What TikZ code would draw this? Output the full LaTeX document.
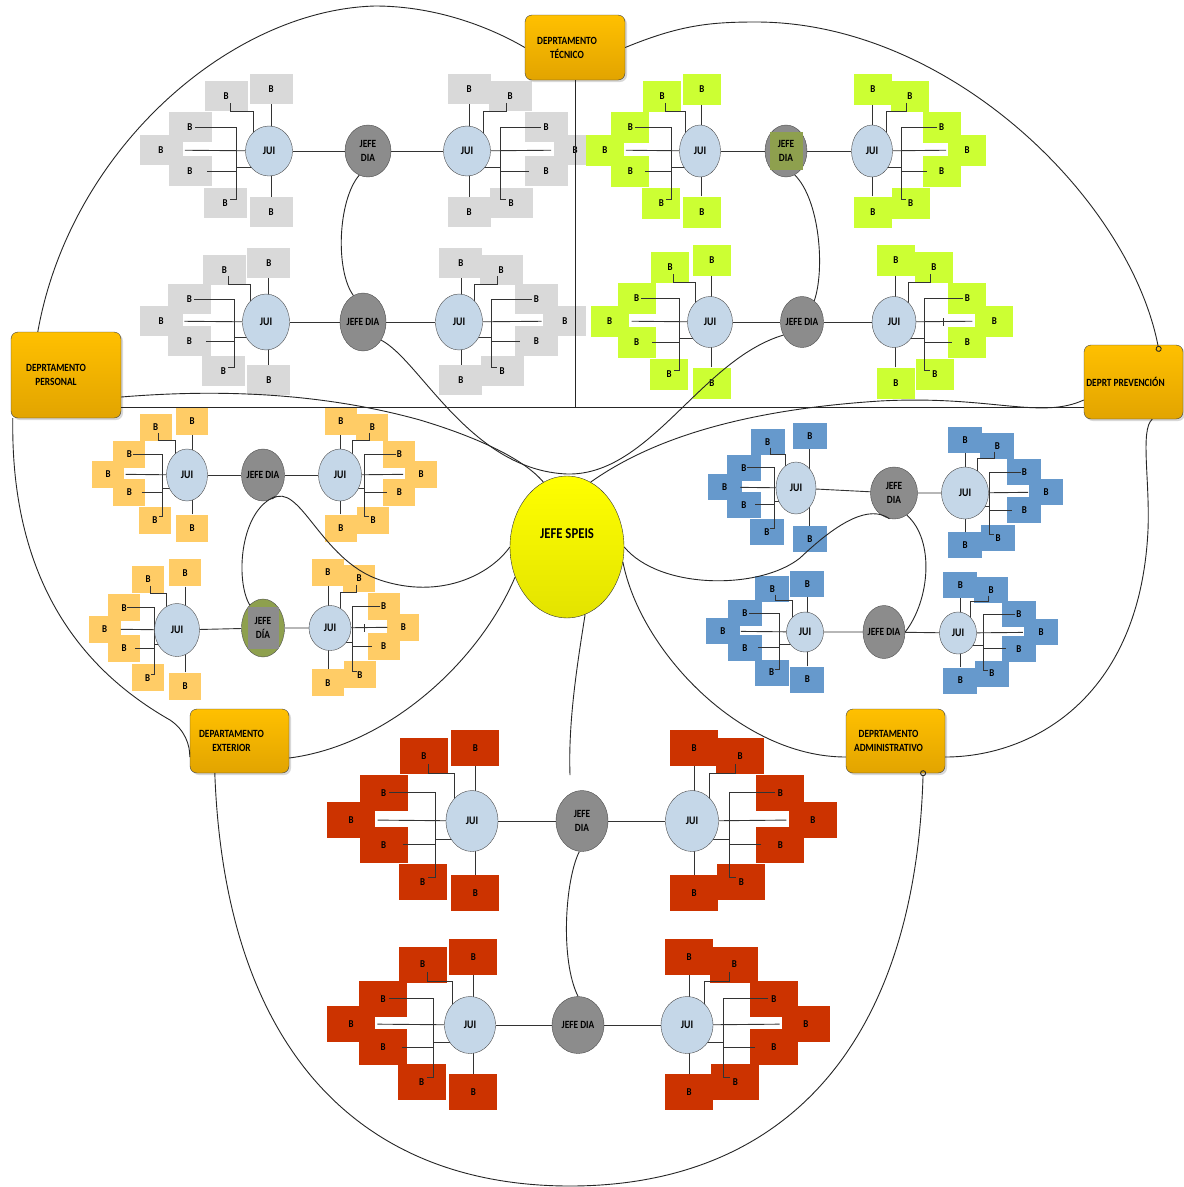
\documentclass[tikz,border=0pt]{standalone}
\usepackage{fontspec}
\setmainfont{Carlito}[FakeStretch=0.85]
\usepackage{tikz}
\usetikzlibrary{calc,shapes.geometric,shadows,arrows.meta}
\pgfdeclarelayer{bg}
\pgfsetlayers{bg,main}
\definecolor{cgrey}{HTML}{D9D9D9}
\definecolor{cgreen}{HTML}{CCFF33}
\definecolor{corange}{HTML}{FFCC66}
\definecolor{cblue}{HTML}{6699CC}
\definecolor{cred}{HTML}{CC3300}
\definecolor{cjui}{HTML}{C5D7E8}
\definecolor{cjefe}{HTML}{8C8C8C}
\definecolor{colive}{HTML}{8EA04E}
\definecolor{cdtop}{HTML}{FFC000}
\definecolor{cdbot}{HTML}{E2A400}
\definecolor{cspeis}{HTML}{E3E300}

\newcommand{\juigroup}[8]{%
  \node[jui, minimum width=#6, minimum height=#7] (#1) at #2 {JUI};
  \begin{pgfonlayer}{bg}
  \begin{scope}[shift={#2}, xscale=#3, yscale=#4]
    \node[bbox, #5] (#1t)  at (#8,-62)  {B};
    \node[bbox, #5] (#1tl) at (-43,-55) {B};
    \node[bbox, #5] (#1ul) at (-79,-24) {B};
    \node[bbox, #5] (#1f)  at (-108,-1) {B};
    \node[bbox, #5] (#1ll) at (-79,20)  {B};
    \node[bbox, #5] (#1bl) at (-44,52)  {B};
    \node[bbox, #5] (#1b)  at (#8,61)   {B};
    \draw[link] (#1t.south) -- (#1t.south |- #1.center);
    \draw[link] (#1b.north) -- (#1b.north |- #1.center);
    \draw[link] (-39,-48) |- (-16,-40) -- (-16,0);
    \draw[link] (-74,-24) -| (-33,48) -- (-39,48);
    \draw[link] ($(#1f)!.22!(#1)$) -- (#1);
    \draw[link] (-62,20) -- (-33,20);
    \draw[link] (-33,16) -- (0,16);
  \end{scope}
  \end{pgfonlayer}
}

\begin{document}
\begin{tikzpicture}[x=1pt, y=-1pt,
  link/.style={draw=black!80, line width=0.9pt},
  curve/.style={draw=black!85, line width=0.9pt},
  bbox/.style={rectangle, inner sep=0pt, font=\bfseries\fontsize{10.5}{10.5}\selectfont},
  greyb/.style={fill=cgrey, minimum width=43, minimum height=30},
  greenb/.style={fill=cgreen, minimum width=38, minimum height=31},
  orangeb/.style={fill=corange, minimum width=32, minimum height=27},
  blueb/.style={fill=cblue, minimum width=34, minimum height=26},
  redb/.style={fill=cred, minimum width=48, minimum height=36},
  jui/.style={ellipse, draw=black!70, fill=cjui, inner sep=0pt, font=\bfseries\fontsize{11.5}{12}\selectfont},
  jefe/.style={ellipse, draw=black!70, fill=cjefe, inner sep=0pt, align=center, font=\bfseries\fontsize{11}{14}\selectfont},
  jefetext/.style={rectangle, inner sep=0pt, align=center, font=\bfseries\fontsize{11}{14}\selectfont},
  dept/.style={rectangle, rounded corners=7pt, draw=black!75, top color=cdtop, bottom color=cdbot,
    drop shadow={fill=black!30, shadow xshift=2pt, shadow yshift=-2pt}},
  depttext/.style={align=center, font=\bfseries\fontsize{11}{14}\selectfont}]

  \begin{pgfonlayer}{bg}
    \fill[white] (0,0) rectangle (1184,1187);
  \end{pgfonlayer}
  \useasboundingbox (0,0) rectangle (1184,1187);

  \juigroup{gl1}{(269,151)}{1}{1}{greyb}{47}{50}{2}
  \juigroup{gr1}{(467,151)}{-1}{1}{greyb}{47}{50}{-2}
  \juigroup{gl2}{(266,322)}{0.97}{0.95}{greyb}{47}{56}{3}
  \juigroup{gr2}{(459,322)}{-0.98}{0.95}{greyb}{47}{56}{-2}
  \juigroup{vl1}{(700,151)}{0.88}{1}{greenb}{41}{52}{2}
  \juigroup{vr1}{(872,151)}{-0.88}{1}{greenb}{41}{52}{-1}
  \juigroup{vl2}{(710,322)}{0.93}{1}{greenb}{45}{51}{2}
  \juigroup{vr2}{(894,322)}{-0.93}{1}{greenb}{44}{51}{-2}
  \juigroup{ol1}{(187,475)}{0.73}{0.87}{orangeb}{41}{52}{7}
  \juigroup{or1}{(340,475)}{-0.75}{0.87}{orangeb}{43}{52}{-1}
  \juigroup{ol2}{(177,630)}{0.67}{0.92}{orangeb}{45}{53}{12}
  \juigroup{or2}{(330,628)}{-0.68}{0.9}{orangeb}{42}{45}{3}
  \juigroup{bl1}{(796,488)}{0.66}{0.84}{blueb}{40}{52}{21}
  \juigroup{br1}{(965,493)}{-0.75}{0.86}{blueb}{47}{52}{0}
  \juigroup{bl2}{(805,632)}{0.76}{0.78}{blueb}{37}{40}{3}
  \juigroup{br2}{(958,633)}{-0.77}{0.78}{blueb}{37}{42}{-3}
  \juigroup{rl1}{(472,821)}{1.12}{1.18}{redb}{52}{61}{3}
  \juigroup{rr1}{(692,821)}{-1.12}{1.18}{redb}{53}{61}{-2}
  \juigroup{rl2}{(470,1025)}{1.1}{1.1}{redb}{51}{57}{3}
  \juigroup{rr2}{(687,1025)}{-1.1}{1.1}{redb}{52}{57}{-2}

  \node[jefe, minimum width=46, minimum height=52] (jg1) at (368,151) {JEFE\\DIA};
  \node[jefe, minimum width=46, minimum height=58] (jg2) at (363,322) {\makebox[0pt]{JEFE DIA}};
  \node[jefe, minimum width=42, minimum height=52] (jv1) at (786,151) {};
  \node[jefetext, fill=colive, minimum width=33, minimum height=38] (jv1t) at (jv1) {JEFE\\DIA};
  \node[jefe, minimum width=43, minimum height=51] (jv2) at (802,322) {\makebox[0pt]{JEFE DIA}};
  \node[jefe, minimum width=43, minimum height=52] (jo1) at (263,475) {\makebox[0pt]{JEFE DIA}};
  \node[jefe, fill=colive, minimum width=43, minimum height=58] (jo2) at (263,628) {};
  \node[jefetext, fill=cjefe, minimum width=31, minimum height=42] (jo2t) at (jo2) {JEFE\\DÍA};
  \node[jefe, minimum width=47, minimum height=52] (jb1) at (894,493) {JEFE\\DIA};
  \node[jefe, minimum width=42, minimum height=53] (jb2) at (884,632) {\makebox[0pt]{JEFE DIA}};
  \node[jefe, minimum width=52, minimum height=61] (jr1) at (582,821) {JEFE\\DIA};
  \node[jefe, minimum width=52, minimum height=57] (jr2) at (578,1025) {\makebox[0pt]{JEFE DIA}};

  \draw[link] (gl1) -- (jg1) -- (gr1);
  \draw[link] (gl2) -- (jg2) -- (gr2);
  \draw[link] (vl1) -- (jv1) -- (vr1);
  \draw[link] (vl2) -- (jv2) -- (vr2);
  \draw[link] (ol1) -- (jo1) -- (or1);
  \draw[link] (ol2) -- (jo2) -- (or2);
  \draw[link] (bl1) -- (jb1) -- (br1);
  \draw[link] (bl2) -- (jb2) -- (br2);
  \draw[link] (rl1) -- (jr1) -- (rr1);
  \draw[link] (rl2) -- (jr2) -- (rr2);
  \draw[link] ([xshift=27pt]vr2.east) ++(0,-4) -- ++(0,8);
  \draw[link] ([xshift=13pt]or2.east) ++(0,-4) -- ++(0,8);

  \node[dept, minimum width=100, minimum height=65,
    label={[depttext, xshift=-8pt]center:{DEPRTAMENTO\\TÉCNICO}}] (tec) at (575,47.5) {};
  \node[dept, minimum width=110, minimum height=86,
    label={[depttext, xshift=-10pt]center:{DEPRTAMENTO\\PERSONAL}}] (pers) at (66,375) {};
  \node[dept, minimum width=99, minimum height=74,
    label={[depttext, xshift=-8pt]center:{DEPRT PREVENCIÓN}}] (prev) at (1133.5,382) {};
  \node[dept, minimum width=99, minimum height=64,
    label={[depttext, xshift=-8pt]center:{DEPARTAMENTO\\EXTERIOR}}] (ext) at (239.5,741) {};
  \node[dept, minimum width=99, minimum height=64,
    label={[depttext, xshift=-7pt]center:{DEPRTAMENTO\\ADMINISTRATIVO}}] (adm) at (895.5,741) {};
  \node[ellipse, draw=black!80, top color=yellow, bottom color=cspeis, minimum width=114, minimum height=142,
    label={[yshift=13pt, font=\bfseries\fontsize{15}{16}\selectfont]center:JEFE SPEIS}] (speis) at (567,547) {};

  \draw[curve] ([xshift=27pt]pers.north west) .. controls (70,150) and (230,10) .. (375,6) .. controls (440,6) and (495,30) .. (tec.west);
  \draw[curve, -{Circle[open, length=6pt]}] (tec.east) .. controls (680,25) and (710,22) .. (756,22) .. controls (950,22) and (1130,200) .. ([xshift=-24pt, yshift=-7pt]prev.north east);
  \draw[curve] ([xshift=2pt]pers.south west) .. controls (10,600) and (100,680) .. (170,720) .. controls (185,730) and (190,745) .. ([yshift=-16pt]ext.west);
  \draw[curve] ([xshift=-31pt]prev.south east) .. controls (1140,430) and (1150,480) .. (1148,530) .. controls (1140,700) and (1030,757) .. ([yshift=-16pt]adm.east);
  \draw[curve, -{Circle[open, length=6pt]}] ([xshift=25pt]ext.south west) .. controls (225,1050) and (360,1186) .. (570,1186) .. controls (780,1186) and (915,1050) .. ([xshift=-22pt, yshift=3pt]adm.south east);
  \draw[curve] ([yshift=-32pt]pers.east) -- ([yshift=-25pt]prev.west);
  \draw[curve] (tec.south) -- ++(0,327);
  \draw[curve] ([yshift=-22pt]pers.east) .. controls (230,388) and (330,395) .. (420,420) .. controls (480,438) and (525,460) .. (speis.110);
  \draw[curve] (speis.70) .. controls (650,440) and (740,410) .. (880,401) .. controls (990,395) and (1040,420) .. ([yshift=-18pt]prev.west);
  \draw[curve] (speis.west) .. controls (490,575) and (440,600) .. (380,580) .. controls (320,560) and (300,480) .. (jo1.290);
  \draw[curve] (speis.east) .. controls (660,590) and (760,590) .. (800,558) .. controls (840,520) and (870,505) .. (jb1.260);
  \draw[curve] (speis.210) .. controls (480,660) and (390,745) .. ([yshift=-17pt]ext.east);
  \draw[curve] (speis.345) .. controls (640,650) and (740,757) .. ([yshift=-16pt]adm.west);
  \coordinate (rtop) at (570,775);
  \draw[curve] (speis.285) .. controls (578,660) and (568,720) .. (rtop);
  \draw[curve] (jg1.250) .. controls (338,200) and (335,270) .. (jg2.110);
  \draw[curve] (jv1.290) .. controls (820,200) and (825,270) .. (jv2.60);
  \draw[curve] (jg2.315) .. controls (420,360) and (470,470) .. (567,474) .. controls (650,476) and (700,360) .. (jv2.215);
  \draw[curve] (jo1.300) .. controls (240,510) and (235,580) .. (jo2.120);
  \draw[curve] (jb1.300) .. controls (935,540) and (930,600) .. (jb2.east);
  \draw[curve] (jr1.265) .. controls (565,880) and (560,960) .. (jr2.north);
\end{tikzpicture}
\end{document}
